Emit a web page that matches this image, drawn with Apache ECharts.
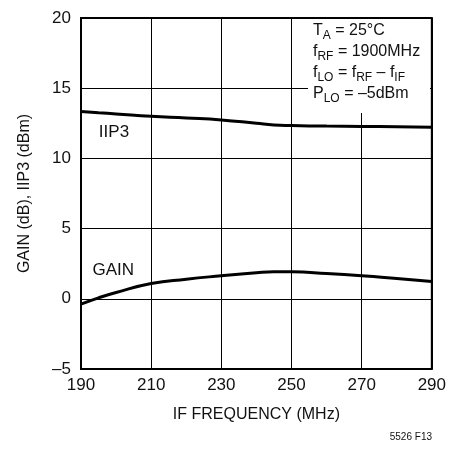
<!DOCTYPE html>
<html>
<head>
<meta charset="utf-8">
<script src="https://cdn.jsdelivr.net/npm/echarts@6/dist/echarts.min.js"></script>
<style>
  html, body { margin: 0; padding: 0; background: #fff; }
  #main { width: 449px; height: 452px; }
</style>
</head>
<body>
<div id="main"></div>
<script>
// IF frequency (MHz)
var freq = [190, 195, 200, 210, 220, 230, 240, 245, 250, 260, 270, 280, 290];
// IIP3 (dBm)
var iip3 = [13.34, 13.25, 13.17, 13.0, 12.88, 12.74, 12.5, 12.38, 12.34, 12.3, 12.28, 12.25, 12.22];
// GAIN (dB)
var gain = [-0.38, 0.07, 0.45, 1.09, 1.4, 1.64, 1.86, 1.93, 1.92, 1.8, 1.64, 1.44, 1.23];

var xTicks = [190, 210, 230, 250, 270, 290];
var yTicks = [-5, 0, 5, 10, 15, 20];

var x0 = xTicks[0];
var font = '"Liberation Sans", Arial, sans-serif';

function pairs(ys) {
  return freq.map(function (f, i) { return [f - x0, ys[i]]; });
}

// curve name labels, placed in data coords
function nameTag(txt, f, v) {
  return {
    symbol: 'rect', symbolSize: 1,
    itemStyle: { color: 'rgba(0,0,0,0)' },
    data: [{ coord: [f - x0, v] }],
    label: { show: true, position: 'inside', formatter: txt, fontFamily: font, fontSize: 17, color: '#111' }
  };
}

var chart = echarts.init(document.getElementById('main'));

var option = {
  animation: false,
  grid: {
    left: 81, right: 16, top: 18, bottom: 83,
    show: true, borderColor: '#000', borderWidth: 2
  },
  xAxis: {
    type: 'value',
    min: 0, max: xTicks[xTicks.length - 1] - x0, interval: 20,
    name: 'IF FREQUENCY (MHz)',
    nameLocation: 'middle', nameGap: 38,
    nameTextStyle: { fontFamily: font, fontSize: 16, color: '#111' },
    axisLine: { show: false },
    axisTick: { show: false },
    axisLabel: {
      margin: 8, fontFamily: font, fontSize: 17, color: '#111',
      formatter: function (v) { return String(v + x0); }
    },
    splitLine: { show: true, lineStyle: { color: '#000', width: 1 } }
  },
  yAxis: {
    type: 'value',
    min: yTicks[0], max: yTicks[yTicks.length - 1], interval: 5,
    name: 'GAIN (dB), IIP3 (dBm)',
    nameLocation: 'middle', nameGap: 48,
    nameTextStyle: { fontFamily: font, fontSize: 16, color: '#111' },
    axisLine: { show: false },
    axisTick: { show: false },
    axisLabel: {
      margin: 10, fontFamily: font, fontSize: 17, color: '#111',
      formatter: function (v) { return v < 0 ? '\u2013' + Math.abs(v) : String(v); }
    },
    splitLine: { show: true, lineStyle: { color: '#000', width: 1 } }
  },
  graphic: [
    {
      type: 'rect', left: 308, top: 19, z: 10,
      shape: { width: 122, height: 94 },
      style: { fill: '#fff' }
    },
    {
      type: 'text', left: 313, top: 23, z: 11,
      style: {
        text: '{m|T}{s|A}{m| = 25°C}\n{m|f}{s|RF}{m| = 1900MHz}\n{m|f}{s|LO}{m| = f}{s|RF}{m| \u2013 f}{s|IF}\n{m|P}{s|LO}{m| = \u20135dBm}',
        fill: '#111',
        rich: {
          m: { fontFamily: font, fontSize: 16, lineHeight: 21, fill: '#111' },
          s: { fontFamily: font, fontSize: 12, lineHeight: 12, verticalAlign: 'bottom', fill: '#111' }
        }
      }
    },
    {
      type: 'text', right: 17, top: 432,
      style: { text: '5526 F13', fontFamily: font, fontSize: 10, fill: '#111' }
    }
  ],
  series: [
    {
      name: 'IIP3', type: 'line', smooth: true, symbol: 'none',
      data: pairs(iip3),
      lineStyle: { color: '#000', width: 3 },
      markPoint: nameTag('IIP3', 199.4, 11.87)
    },
    {
      name: 'GAIN', type: 'line', smooth: true, symbol: 'none',
      data: pairs(gain),
      lineStyle: { color: '#000', width: 3 },
      markPoint: nameTag('GAIN', 199.2, 2.06)
    }
  ]
};

chart.setOption(option);
</script>
</body>
</html>
